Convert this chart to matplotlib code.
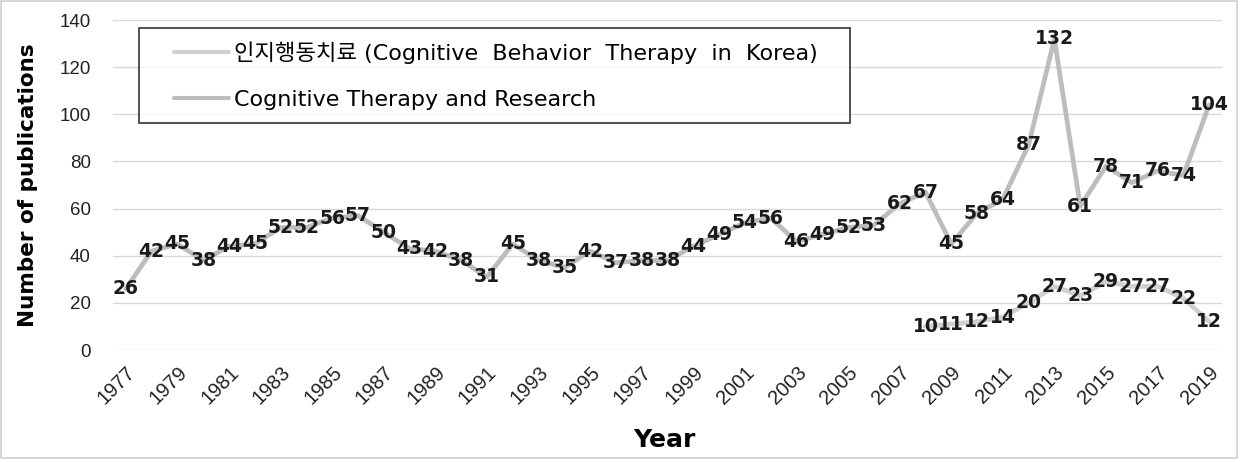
import matplotlib
matplotlib.use("Agg")
import matplotlib.pyplot as plt
from matplotlib.patches import Rectangle
from matplotlib.legend_handler import HandlerLine2D

plt.rcParams['font.family'] = ['Liberation Sans', 'Noto Sans CJK KR', 'DejaVu Sans']

# Cognitive Therapy and Research, 1977-2019
ctr_years = list(range(1977, 2020))
ctr_counts = [26, 42, 45, 38, 44, 45, 52, 52, 56, 57, 50, 43, 42, 38, 31, 45, 38, 35,
              42, 37, 38, 38, 44, 49, 54, 56, 46, 49, 52, 53, 62, 67, 45, 58, 64, 87,
              132, 61, 78, 71, 76, 74, 104]

# 인지행동치료 (Cognitive Behavior Therapy in Korea), 2008-2019
kor_years = list(range(2008, 2020))
kor_counts = [10, 11, 12, 14, 20, 27, 23, 29, 27, 27, 22, 12]

tick_years = list(range(1977, 2020, 2))

fig = plt.figure(figsize=(12.47, 4.62), dpi=100)
ax = fig.add_axes([0.0906, 0.2424, 0.8894, 0.7143])

l_kor, = ax.plot(kor_years, kor_counts, color='#d0d0d0', lw=3.4, solid_capstyle='round',
                 label='인지행동치료 (Cognitive  Behavior  Therapy  in  Korea)', zorder=2)
l_ctr, = ax.plot(ctr_years, ctr_counts, color='#bdbdbd', lw=3.4, solid_capstyle='round',
                 label='Cognitive Therapy and Research', zorder=2)

# data labels sit on the points
for yrs, vals in [(ctr_years, ctr_counts), (kor_years, kor_counts)]:
    for x, v in zip(yrs, vals):
        ax.text(x, v, str(v), ha='center', va='center', fontsize=13.5,
                fontweight='bold', family='DejaVu Sans', color='#1a1a1a', zorder=3)

ax.set_xlim(1976.5, 2019.5)
ax.set_ylim(0, 140)
ax.set_yticks(range(0, 141, 20))
ax.set_xticks(tick_years)
ax.set_xticklabels([str(y) for y in tick_years], rotation=45, ha='right',
                   rotation_mode='anchor')
ax.tick_params(axis='both', length=0, labelsize=13.5, colors='#222222')
ax.tick_params(axis='x', labelsize=14.5, pad=9)
ax.tick_params(axis='y', pad=16)
ax.grid(axis='y', color='#d9d9d9', lw=1)
ax.set_axisbelow(True)
for s in ax.spines.values():
    s.set_visible(False)

ax.set_ylabel('Number of publications', fontsize=15.5, fontweight='bold',
              family='DejaVu Sans')
ax.yaxis.set_label_coords(-0.068, 0.5)
ax.set_xlabel('Year', fontsize=18, fontweight='bold', family='DejaVu Sans')
ax.xaxis.set_label_coords(0.497, -0.235)

leg = ax.legend(handles=[l_kor, l_ctr], loc='upper left',
                bbox_to_anchor=(0.0234, 0.691, 0.641, 0.285), mode='expand',
                prop={'family': ['DejaVu Sans', 'Noto Sans CJK KR'], 'size': 16},
                frameon=True, fancybox=False, edgecolor='black',
                borderaxespad=0, labelspacing=1.17, handlelength=3.47,
                handletextpad=0.2, borderpad=0.6,
                handler_map={l_kor: HandlerLine2D(xpad=1.0),
                             l_ctr: HandlerLine2D(xpad=1.0)})
leg.get_frame().set_linewidth(1.2)
leg.get_lines()[0].set_linewidth(3)
leg.get_lines()[1].set_linewidth(3)

fig.patches.append(Rectangle((0.001, 0.009), 0.991, 0.989, transform=fig.transFigure,
                             fill=False, edgecolor='#d0d0d0', lw=1.2))

fig.savefig('out.png', dpi=100)
